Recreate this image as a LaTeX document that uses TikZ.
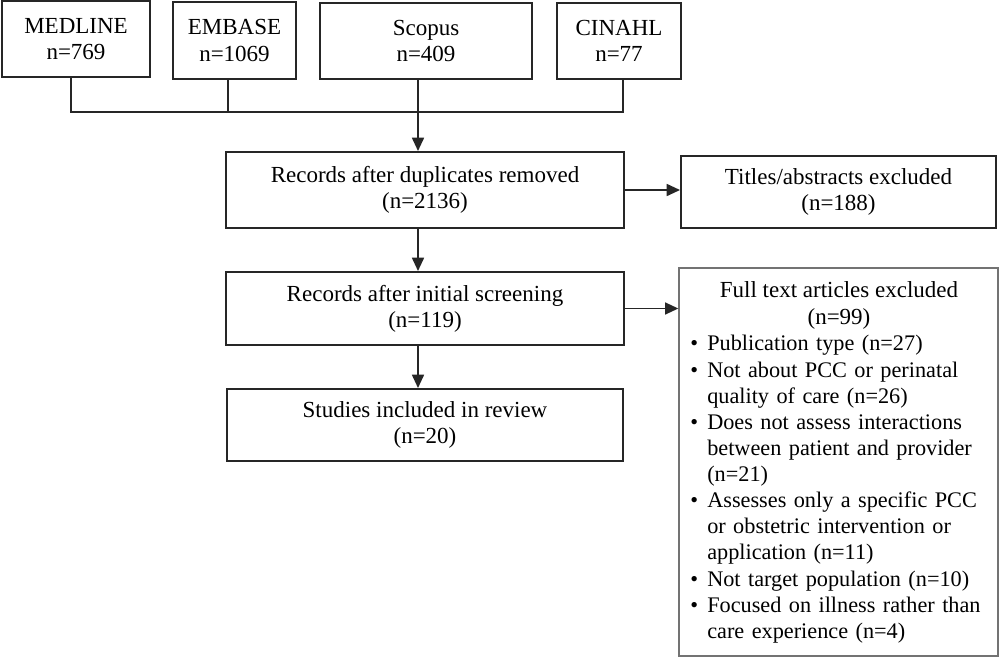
\documentclass[tikz,border=0pt]{standalone}
\usepackage{fontspec}
\setmainfont{Liberation Serif}
\usetikzlibrary{arrows.meta}
\newlength\px \setlength\px{0.75pt}
\newcommand\bitem{\par\hangindent=15\px\hangafter=0\noindent\llap{\textbullet\hspace{9\px}}}
\begin{document}
\begin{tikzpicture}[x=0.75pt,y=-0.75pt,
  txt/.style={font=\fontsize{17.25}{19.6}\selectfont},
  itemtxt/.style={font=\fontsize{16.7}{19.6}\selectfont},
  box/.style={txt, draw=black!85, line width=1.5pt, inner sep=0pt, align=center},
  conn/.style={draw=black!85, line width=1.3pt},
  arr/.style={conn, -{Triangle[length=10pt,width=9pt]}}]
\useasboundingbox (0,0) rectangle (1000,657);
\fill[white] (0,0) rectangle (1000,657);
% sources
\node[box, minimum width=148\px, minimum height=76\px] (med) at (76,39) {MEDLINE\\n=769};
\node[box, minimum width=123\px, minimum height=77\px] (emb) at (234.5,40.5) {EMBASE\\n=1069};
\node[box, minimum width=212\px, minimum height=76\px] (sco) at (426,41) {Scopus\\n=409};
\node[box, minimum width=124\px, minimum height=76\px] (cin) at (619,41) {CINAHL\\n=77};
% flow
\node[box, minimum width=398\px, minimum height=76\px] (dup) at (425,190) {Records after duplicates removed\\(n=2136)};
\node[box, minimum width=315\px, minimum height=72\px] (tit) at (838.5,192) {Titles/abstracts excluded\\(n=188)};
\node[box, minimum width=398\px, minimum height=73\px] (ini) at (425,308.5) {Records after initial screening\\(n=119)};
\node[box, minimum width=396\px, minimum height=72\px] (stu) at (425,425) {Studies included in review\\(n=20)};
\node[draw=black!55, line width=1pt, inner sep=0pt, minimum width=319\px, minimum height=388\px] (ful) at (838.5,462) {};
\node[txt, align=center, inner sep=0pt, anchor=base] (fulhead) at (839,324) {Full text articles excluded\\(n=99)};
\node[itemtxt, anchor=north west, inner sep=0pt, text width=310\px] (fultxt) at (692,324.5) {\raggedright
\bitem Publication type (n=27)
\bitem Not about PCC or perinatal\newline quality of care (n=26)
\bitem Does not assess interactions\newline between patient and provider\newline (n=21)
\bitem Assesses only a specific PCC\newline or obstetric intervention or\newline application (n=11)
\bitem Not target population (n=10)
\bitem Focused on illness rather than\newline care experience (n=4)\par};
% connectors
\coordinate (j1) at (71,112);
\coordinate (j2) at (228,112);
\coordinate (j3) at (418,112);
\coordinate (j4) at (623,112);
\draw[conn] (med.south -| j1) -- (j1) -- (j4) -- (cin.south -| j4);
\draw[conn] (emb.south -| j2) -- (j2);
\draw[conn] (sco.south -| j3) -- (j3);
\draw[arr] (j3) -- (dup.north -| j3);
\draw[arr] (dup.south -| j3) -- (ini.north -| j3);
\draw[arr] (ini.south -| j3) -- (stu.north -| j3);
\draw[arr] (dup.east) -- (dup.east -| tit.west);
\draw[arr] (ini.east) -- (ini.east -| ful.west);
\end{tikzpicture}
\end{document}
